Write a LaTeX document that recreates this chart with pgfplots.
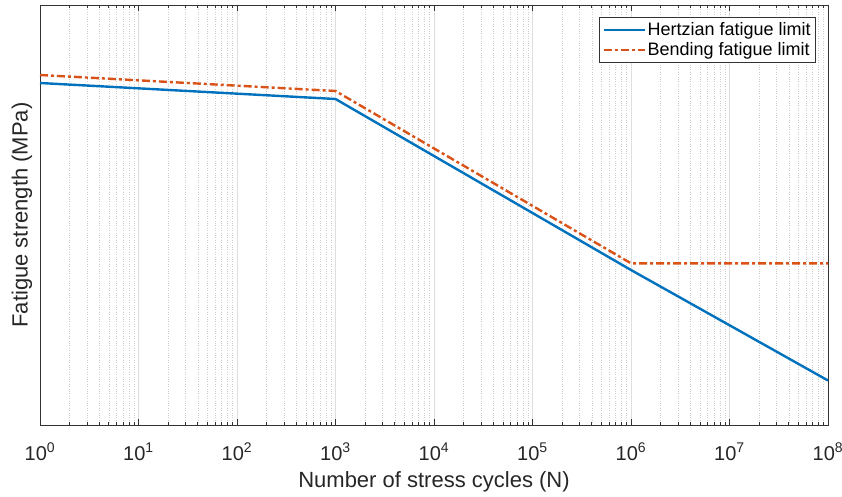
\documentclass[border=0pt]{standalone}
\usepackage{pgfplots}
\pgfplotsset{compat=1.18}
\usepackage{fontspec}
\setmainfont{Liberation Sans}
\definecolor{mblue}{RGB}{0,114,189}
\definecolor{morange}{RGB}{217,83,25}
\begin{document}
\begin{tikzpicture}
\useasboundingbox (-40pt,-71pt) rectangle (802pt,425pt);
\begin{axis}[
  at={(0pt,0pt)}, anchor=south west,
  scale only axis,
  width=788pt, height=420pt,
  xmode=log,
  xmin=1, xmax=1e8,
  ymin=0, ymax=420,
  ytick=\empty,
  xtick={1,10,100,1000,10000,100000,1000000,10000000,100000000},
  xticklabels={10\textsuperscript{0},10\textsuperscript{1},10\textsuperscript{2},10\textsuperscript{3},10\textsuperscript{4},10\textsuperscript{5},10\textsuperscript{6},10\textsuperscript{7},10\textsuperscript{8}},
  tick align=inside,
  xtick pos=both,
  major tick length=6pt,
  minor tick length=3.5pt,
  xminorgrids=true, xmajorgrids=true,
  major grid style={draw=black!13, line width=0.7pt},
  minor grid style={draw=black!20, dotted, line width=0.6pt},
  axis line style={draw=black!80, line width=0.7pt},
  tick style={draw=black!80, line width=0.7pt},
  ticklabel style={font=\fontsize{20}{22}\selectfont, text=black!85},
  xticklabel style={anchor=base, yshift=-35pt},
  label style={font=\fontsize{22}{24}\selectfont, text=black!85},
  xlabel={Number of stress cycles (N)},
  ylabel={Fatigue strength (MPa)},
  xlabel style={at={(axis description cs:0.5,-0.1357)}, anchor=center},
  ylabel style={at={(axis description cs:-0.0228,0.5)}, anchor=center},
  legend style={at={(rel axis cs:0.9848,0.9714)}, anchor=north east,
    font=\fontsize{18}{20}\selectfont, draw=black!80, line width=0.7pt,
    row sep=0pt, inner xsep=3pt, inner ysep=3pt,
    nodes={inner xsep=2pt, inner ysep=2.5pt}},
  legend cell align=left,
  legend image code/.code={\draw[#1, line width=2.2pt] (0pt,0pt) -- (41pt,0pt);},
]
\addplot[mblue, line width=2.4pt] coordinates {(1,342) (1000,326) (1000000,155) (100000000,44.5)};
\addlegendentry{Hertzian fatigue limit}
\addplot[morange, line width=2.4pt, dash pattern=on 8pt off 3pt on 3pt off 3pt] coordinates {(1,350) (1000,334) (1000000,161.7) (100000000,161.7)};
\addlegendentry{Bending fatigue limit}
\end{axis}
\end{tikzpicture}
\end{document}
